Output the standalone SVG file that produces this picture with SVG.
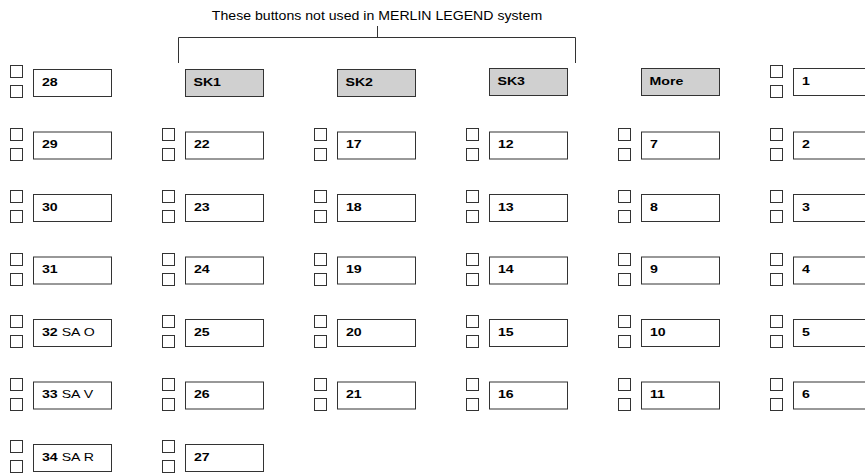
<svg xmlns="http://www.w3.org/2000/svg" width="865" height="476" viewBox="0 0 865 476">
<style>
.b{fill:#fff;stroke:#333;stroke-width:1}
.g{fill:#d0d0d0;stroke:#333;stroke-width:1}
.s{fill:#fff;stroke:#333;stroke-width:1}
.t{font-family:"Liberation Sans",Arial,sans-serif;font-size:11.5px;font-weight:bold;fill:#000;transform-box:fill-box;transform-origin:left center;transform:scaleX(1.23)}
.n{font-weight:normal}
.c{fill:none;stroke:#333;stroke-width:1}
.h{font-family:"Liberation Sans",Arial,sans-serif;font-size:12.5px;fill:#000;transform-box:fill-box;transform-origin:center;transform:scaleX(1.13)}
</style>
<defs>
<g id="sq"><rect class="s" x="0.5" y="0.5" width="12" height="12"/><rect class="s" x="0.5" y="20.5" width="12" height="12"/></g>
</defs>
<text class="h" x="377" y="20" text-anchor="middle">These buttons not used in MERLIN LEGEND system</text>
<g id="connectors">
<path class="c" d="M178.5,63 V37.5 H575.5 V63 M377.5,26 V37.5"/>
</g>
<!-- column 1 -->
<g id="b28"><use href="#sq" x="10" y="65"/><rect class="b" x="33.5" y="69.5" width="78" height="27"/><text class="t" x="42" y="86">28</text></g>
<g id="b29"><use href="#sq" x="10" y="128"/><rect class="b" x="33.5" y="132" width="78" height="27"/><text class="t" x="42" y="148.5">29</text></g>
<g id="b30"><use href="#sq" x="10" y="190"/><rect class="b" x="33.5" y="194.5" width="78" height="27"/><text class="t" x="42" y="211">30</text></g>
<g id="b31"><use href="#sq" x="10" y="253"/><rect class="b" x="33.5" y="257" width="78" height="27"/><text class="t" x="42" y="273.5">31</text></g>
<g id="b32"><use href="#sq" x="10" y="315"/><rect class="b" x="33.5" y="319.5" width="78" height="27"/><text class="t" x="42" y="336">32 <tspan class="n">SA O</tspan></text></g>
<g id="b33"><use href="#sq" x="10" y="378"/><rect class="b" x="33.5" y="382" width="78" height="27"/><text class="t" x="42" y="398.5">33 <tspan class="n">SA V</tspan></text></g>
<g id="b34"><use href="#sq" x="10" y="440"/><rect class="b" x="33.5" y="444.5" width="78" height="27"/><text class="t" x="42" y="461">34 <tspan class="n">SA R</tspan></text></g>
<!-- column 2 -->
<g id="sk1"><rect class="g" x="185.5" y="69.5" width="78" height="27"/><text class="t" x="193.5" y="86">SK1</text></g>
<g id="b22"><use href="#sq" x="162" y="128"/><rect class="b" x="185.5" y="132" width="78" height="27"/><text class="t" x="194" y="148.5">22</text></g>
<g id="b23"><use href="#sq" x="162" y="190"/><rect class="b" x="185.5" y="194.5" width="78" height="27"/><text class="t" x="194" y="211">23</text></g>
<g id="b24"><use href="#sq" x="162" y="253"/><rect class="b" x="185.5" y="257" width="78" height="27"/><text class="t" x="194" y="273.5">24</text></g>
<g id="b25"><use href="#sq" x="162" y="315"/><rect class="b" x="185.5" y="319.5" width="78" height="27"/><text class="t" x="194" y="336">25</text></g>
<g id="b26"><use href="#sq" x="162" y="378"/><rect class="b" x="185.5" y="382" width="78" height="27"/><text class="t" x="194" y="398.5">26</text></g>
<g id="b27"><use href="#sq" x="162" y="440"/><rect class="b" x="185.5" y="444.5" width="78" height="27"/><text class="t" x="194" y="461">27</text></g>
<!-- column 3 -->
<g id="sk2"><rect class="g" x="337.5" y="69.5" width="78" height="27"/><text class="t" x="345.5" y="86">SK2</text></g>
<g id="b17"><use href="#sq" x="314" y="128"/><rect class="b" x="337.5" y="132" width="78" height="27"/><text class="t" x="346" y="148.5">17</text></g>
<g id="b18"><use href="#sq" x="314" y="190"/><rect class="b" x="337.5" y="194.5" width="78" height="27"/><text class="t" x="346" y="211">18</text></g>
<g id="b19"><use href="#sq" x="314" y="253"/><rect class="b" x="337.5" y="257" width="78" height="27"/><text class="t" x="346" y="273.5">19</text></g>
<g id="b20"><use href="#sq" x="314" y="315"/><rect class="b" x="337.5" y="319.5" width="78" height="27"/><text class="t" x="346" y="336">20</text></g>
<g id="b21"><use href="#sq" x="314" y="378"/><rect class="b" x="337.5" y="382" width="78" height="27"/><text class="t" x="346" y="398.5">21</text></g>
<!-- column 4 -->
<g id="sk3"><rect class="g" x="489.5" y="68.5" width="78" height="27"/><text class="t" x="497.5" y="85">SK3</text></g>
<g id="b12"><use href="#sq" x="466" y="128"/><rect class="b" x="489.5" y="132" width="78" height="27"/><text class="t" x="498" y="148.5">12</text></g>
<g id="b13"><use href="#sq" x="466" y="190"/><rect class="b" x="489.5" y="194.5" width="78" height="27"/><text class="t" x="498" y="211">13</text></g>
<g id="b14"><use href="#sq" x="466" y="253"/><rect class="b" x="489.5" y="257" width="78" height="27"/><text class="t" x="498" y="273.5">14</text></g>
<g id="b15"><use href="#sq" x="466" y="315"/><rect class="b" x="489.5" y="319.5" width="78" height="27"/><text class="t" x="498" y="336">15</text></g>
<g id="b16"><use href="#sq" x="466" y="378"/><rect class="b" x="489.5" y="382" width="78" height="27"/><text class="t" x="498" y="398.5">16</text></g>
<!-- column 5 -->
<g id="more"><rect class="g" x="641.5" y="68.5" width="78" height="27"/><text class="t" x="649.5" y="85">More</text></g>
<g id="b7"><use href="#sq" x="618" y="128"/><rect class="b" x="641.5" y="132" width="78" height="27"/><text class="t" x="650" y="148.5">7</text></g>
<g id="b8"><use href="#sq" x="618" y="190"/><rect class="b" x="641.5" y="194.5" width="78" height="27"/><text class="t" x="650" y="211">8</text></g>
<g id="b9"><use href="#sq" x="618" y="253"/><rect class="b" x="641.5" y="257" width="78" height="27"/><text class="t" x="650" y="273.5">9</text></g>
<g id="b10"><use href="#sq" x="618" y="315"/><rect class="b" x="641.5" y="319.5" width="78" height="27"/><text class="t" x="650" y="336">10</text></g>
<g id="b11"><use href="#sq" x="618" y="378"/><rect class="b" x="641.5" y="382" width="78" height="27"/><text class="t" x="650" y="398.5">11</text></g>
<!-- column 6 -->
<g id="b1"><use href="#sq" x="770" y="65"/><rect class="b" x="793.5" y="68.5" width="78" height="27"/><text class="t" x="802" y="85">1</text></g>
<g id="b2"><use href="#sq" x="770" y="128"/><rect class="b" x="793.5" y="132" width="78" height="27"/><text class="t" x="802" y="148.5">2</text></g>
<g id="b3"><use href="#sq" x="770" y="190"/><rect class="b" x="793.5" y="194.5" width="78" height="27"/><text class="t" x="802" y="211">3</text></g>
<g id="b4"><use href="#sq" x="770" y="253"/><rect class="b" x="793.5" y="257" width="78" height="27"/><text class="t" x="802" y="273.5">4</text></g>
<g id="b5"><use href="#sq" x="770" y="315"/><rect class="b" x="793.5" y="319.5" width="78" height="27"/><text class="t" x="802" y="336">5</text></g>
<g id="b6"><use href="#sq" x="770" y="378"/><rect class="b" x="793.5" y="382" width="78" height="27"/><text class="t" x="802" y="398.5">6</text></g>
</svg>
